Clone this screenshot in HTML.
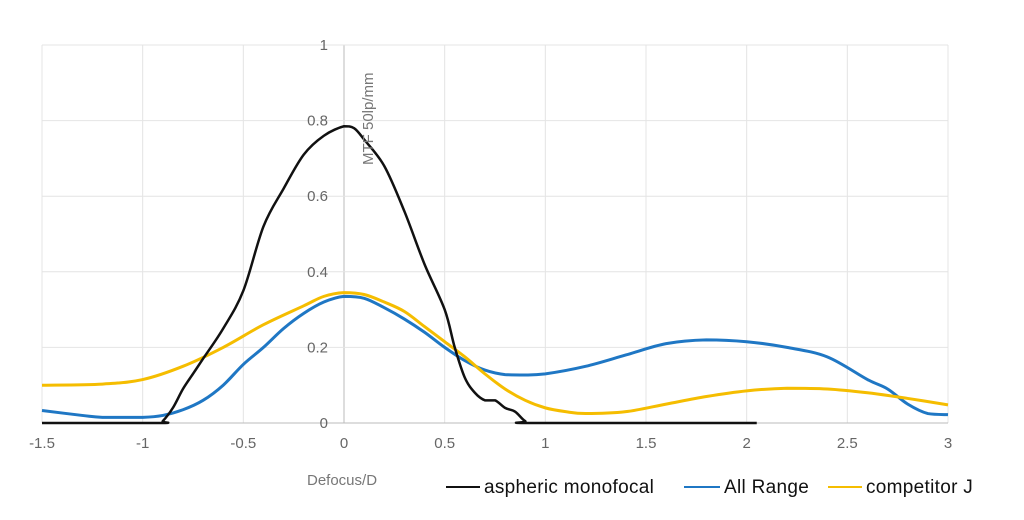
<!DOCTYPE html>
<html><head><meta charset="utf-8"><style>
html,body{margin:0;padding:0;background:#fff;}
svg{display:block;font-family:"Liberation Sans",sans-serif;}
</style></head><body>
<svg id="chart" width="1024" height="520" viewBox="0 0 1024 520">
<g id="grid"></g>
<g id="ticks" fill="#666" font-size="15"></g>
<g id="series"></g>
<text x="0" y="0" transform="translate(373,165) rotate(-90)" fill="#777" font-size="15">MTF 50lp/mm</text>
<text x="307" y="485" fill="#777" font-size="15">Defocus/D</text>
<g font-size="19" letter-spacing="0.3" fill="#111">
<g><line x1="446" y1="487" x2="480" y2="487" stroke="#111" stroke-width="2"/><text x="484" y="493">aspheric monofocal</text></g>
<g><line x1="684" y1="487" x2="720" y2="487" stroke="#1f77c4" stroke-width="2"/><text x="724" y="493">All Range</text></g>
<g><line x1="828" y1="487" x2="862" y2="487" stroke="#f5bd00" stroke-width="2"/><text x="866" y="493">competitor J</text></g>
</g>
</svg>
<script>
const xTicks=[-1.5,-1,-0.5,0,0.5,1,1.5,2,2.5,3];
const yTicks=[0,0.2,0.4,0.6,0.8,1];
const blackX=[-1.5,-0.92,-0.9,-0.85,-0.8,-0.75,-0.7,-0.6,-0.5,-0.4,-0.3,-0.2,-0.1,0,0.05,0.1,0.2,0.3,0.4,0.5,0.55,0.6,0.65,0.7,0.75,0.8,0.85,0.9,0.95,2.05];
const blackY=[0,0,0.005,0.04,0.09,0.13,0.17,0.25,0.35,0.52,0.62,0.71,0.76,0.785,0.78,0.75,0.68,0.56,0.42,0.3,0.2,0.12,0.08,0.06,0.06,0.04,0.03,0.005,0,0];
const blueX=[-1.5,-1.3,-1.2,-1,-0.9,-0.8,-0.7,-0.6,-0.5,-0.4,-0.3,-0.2,-0.1,0,0.1,0.2,0.3,0.4,0.5,0.6,0.7,0.8,0.9,1,1.2,1.4,1.6,1.8,2,2.2,2.4,2.6,2.7,2.8,2.9,3];
const blueY=[0.033,0.02,0.015,0.015,0.02,0.035,0.06,0.1,0.155,0.2,0.25,0.29,0.32,0.335,0.33,0.305,0.275,0.24,0.2,0.165,0.14,0.128,0.127,0.13,0.15,0.18,0.21,0.22,0.215,0.2,0.175,0.115,0.09,0.05,0.025,0.022];
const yellowX=[-1.5,-1.2,-1,-0.8,-0.6,-0.4,-0.2,-0.1,0,0.1,0.2,0.3,0.4,0.5,0.6,0.7,0.8,0.9,1,1.1,1.2,1.4,1.6,1.8,2,2.2,2.4,2.6,2.8,3];
const yellowY=[0.1,0.103,0.115,0.15,0.2,0.26,0.31,0.335,0.345,0.34,0.32,0.295,0.255,0.215,0.175,0.13,0.09,0.06,0.04,0.03,0.025,0.03,0.05,0.07,0.085,0.092,0.09,0.08,0.065,0.048];
const X0=42,X1=948,Y0=423,Y1=45;
const sx=v=>X0+(v+1.5)/4.5*(X1-X0);
const sy=v=>Y0-v*(Y0-Y1);
const NS='http://www.w3.org/2000/svg';
const grid=document.getElementById('grid'),ticks=document.getElementById('ticks'),series=document.getElementById('series');
function mk(t,a,p){const e=document.createElementNS(NS,t);for(const k in a)e.setAttribute(k,a[k]);p.appendChild(e);return e;}
xTicks.forEach(v=>{
 const l=mk('line',{x1:sx(v),x2:sx(v),y1:Y1,y2:Y0,stroke:v===0?'#bbb':'#e4e4e4','stroke-width':1},grid);
 
 
 const t=mk('text',{x:sx(v),y:Y0+25,'text-anchor':'middle'},ticks);t.textContent=v;
 
 
});
yTicks.forEach(v=>{
 const l=mk('line',{x1:X0,x2:X1,y1:sy(v),y2:sy(v),stroke:v===0?'#bbb':'#e4e4e4','stroke-width':1},grid);
 
 
 const t=mk('text',{x:sx(0)-16,y:sy(v)+5,'text-anchor':'end'},ticks);t.textContent=v;
 
 
});
function clamp(v,a,b){const lo=Math.min(a,b),hi=Math.max(a,b);return Math.max(lo,Math.min(hi,v));}
function path(xs,ys){
 const p=xs.map((x,i)=>[sx(x),sy(ys[i])]);
 let d='M'+p[0][0]+','+p[0][1];
 for(let i=0;i<p.length-1;i++){
  const a=p[Math.max(0,i-1)],b=p[i],c=p[i+1],e=p[Math.min(p.length-1,i+2)];
  const c1=[b[0]+(c[0]-a[0])/6,clamp(b[1]+(c[1]-a[1])/6,b[1],c[1])],c2=[c[0]-(e[0]-b[0])/6,clamp(c[1]-(e[1]-b[1])/6,b[1],c[1])];
  d+=` C${c1[0]},${c1[1]} ${c2[0]},${c2[1]} ${c[0]},${c[1]}`;
 }
 return d;
}
const b=mk('path',{d:path(blueX,blueY),fill:'none',stroke:'#1f77c4','stroke-width':3},series);


const y=mk('path',{d:path(yellowX,yellowY),fill:'none',stroke:'#f5bd00','stroke-width':3},series);


const k=mk('path',{d:path(blackX,blackY),fill:'none',stroke:'#111','stroke-width':2.5},series);


</script>
</body></html>
